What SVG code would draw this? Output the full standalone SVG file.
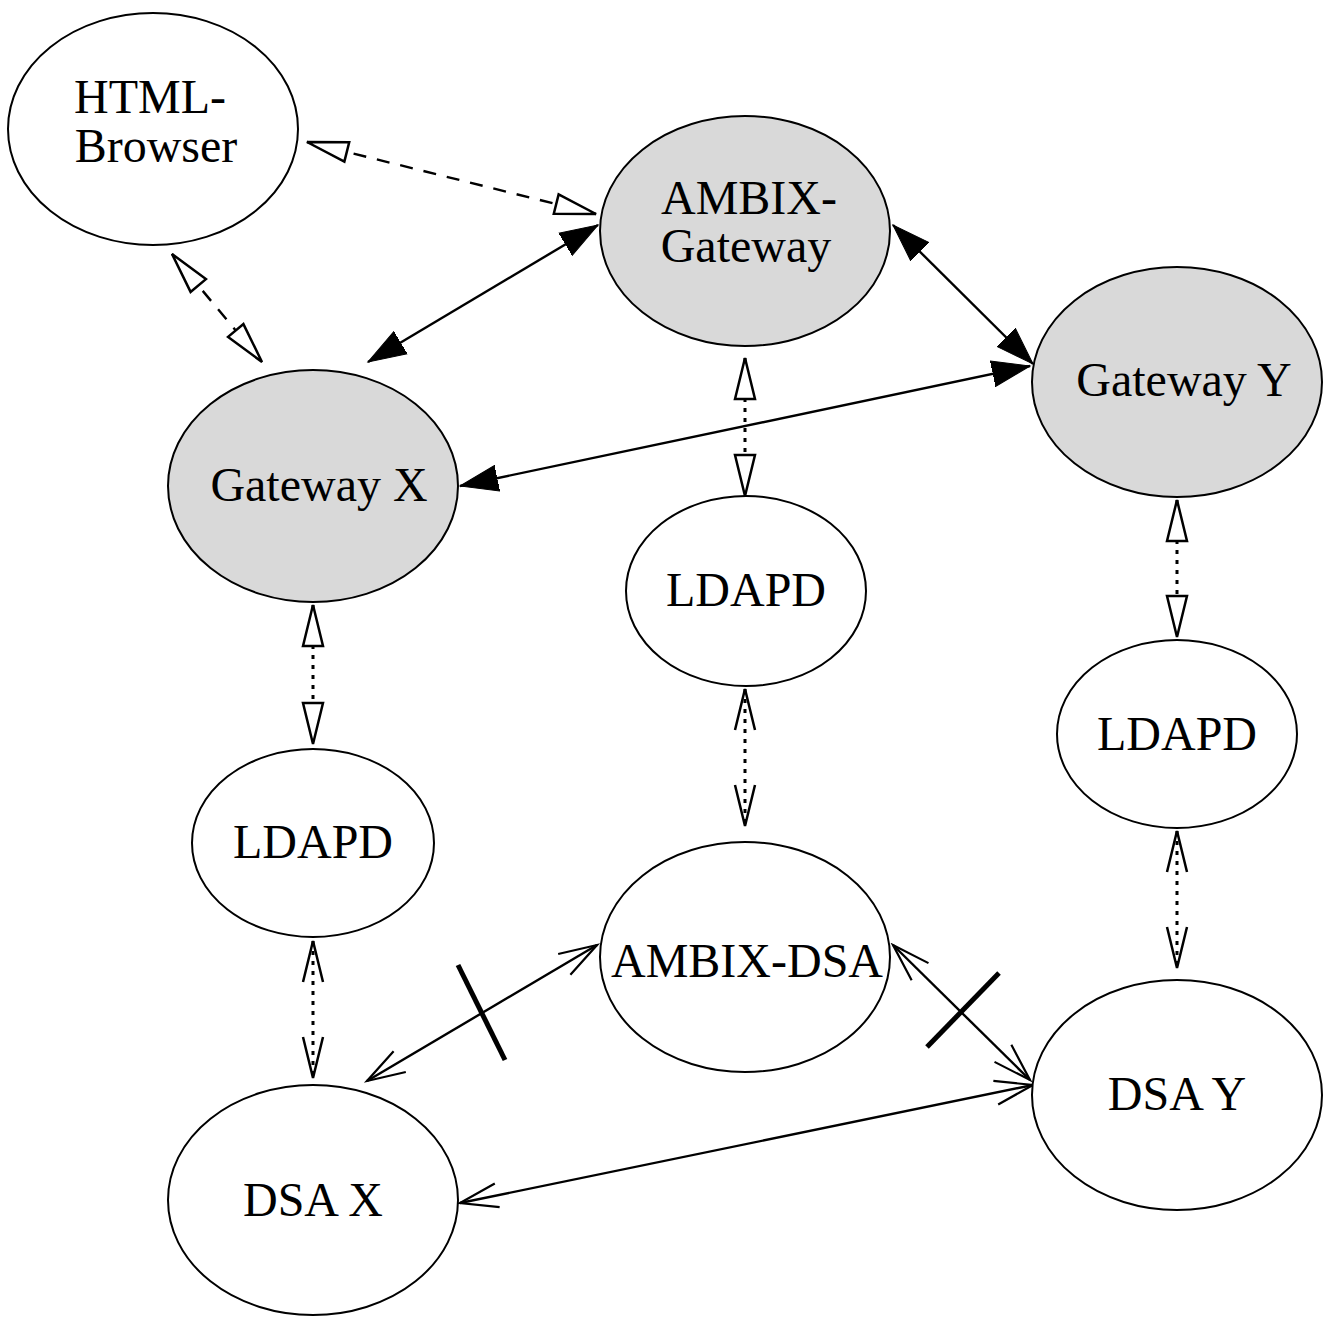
<svg xmlns="http://www.w3.org/2000/svg" width="1328" height="1326" viewBox="0 0 1328 1326">
<style>
.n{fill:#fff;stroke:#000;stroke-width:2}
.g{fill:#d9d9d9;stroke:#000;stroke-width:2}
.t{font-family:"Liberation Serif","Times New Roman",serif;font-size:48px;text-anchor:middle;fill:#000}
.c{fill:none;stroke:#000;stroke-width:2.4}
.dash{stroke-dasharray:13 11}
.dot{stroke-dasharray:4 6;stroke-width:3}
.bar{stroke:#000;stroke-width:5}
</style>
<defs>
<marker id="fa" markerUnits="userSpaceOnUse" markerWidth="40" markerHeight="28" refX="38" refY="14" orient="auto-start-reverse"><path d="M0,1 L38,14 L0,27 Z" fill="#000" stroke="#000" stroke-width="1"/></marker>
<marker id="ot" markerUnits="userSpaceOnUse" markerWidth="46" markerHeight="26" refX="43" refY="13" orient="auto-start-reverse"><path d="M2,3 L43,13 L2,23 Z" fill="#fff" stroke="#000" stroke-width="2.5"/></marker>
<marker id="ov" markerUnits="userSpaceOnUse" markerWidth="46" markerHeight="26" refX="43" refY="13" orient="auto-start-reverse"><path d="M2,3 L43,13 L2,23" fill="none" stroke="#000" stroke-width="2.5"/></marker>
<marker id="tv" markerUnits="userSpaceOnUse" markerWidth="42" markerHeight="28" refX="39" refY="14" orient="auto-start-reverse"><path d="M1,2 L39,14 L1,26" fill="none" stroke="#000" stroke-width="2.2"/></marker>
</defs>
<rect width="1328" height="1326" fill="#fff"/>
<g id="connectors">
<line class="c dash" x1="307" y1="142" x2="596" y2="214" marker-start="url(#ot)" marker-end="url(#ot)"/>
<line class="c dash" x1="172" y1="254" x2="262" y2="362" marker-start="url(#ot)" marker-end="url(#ot)"/>
<line class="c" x1="368" y1="362" x2="598" y2="225" marker-start="url(#fa)" marker-end="url(#fa)"/>
<line class="c" x1="893" y1="225" x2="1033" y2="364" marker-start="url(#fa)" marker-end="url(#fa)"/>
<line class="c" x1="460" y1="486" x2="1030" y2="366" marker-start="url(#fa)" marker-end="url(#fa)"/>
<line class="c dot" x1="745" y1="358" x2="745" y2="496" marker-start="url(#ot)" marker-end="url(#ot)"/>
<line class="c dot" x1="1177" y1="500" x2="1177" y2="637" marker-start="url(#ot)" marker-end="url(#ot)"/>
<line class="c dot" x1="313" y1="605" x2="313" y2="744" marker-start="url(#ot)" marker-end="url(#ot)"/>
<line class="c dot" x1="745" y1="689" x2="745" y2="826" marker-start="url(#ov)" marker-end="url(#ov)"/>
<line class="c dot" x1="1177" y1="831" x2="1177" y2="968" marker-start="url(#ov)" marker-end="url(#ov)"/>
<line class="c dot" x1="313" y1="941" x2="313" y2="1078" marker-start="url(#ov)" marker-end="url(#ov)"/>
<line class="c" x1="367" y1="1081" x2="597" y2="945" marker-start="url(#tv)" marker-end="url(#tv)"/>
<line class="c" x1="893" y1="945" x2="1030" y2="1080" marker-start="url(#tv)" marker-end="url(#tv)"/>
<line class="c" x1="460" y1="1203" x2="1033" y2="1085" marker-start="url(#tv)" marker-end="url(#tv)"/>
<line class="bar" x1="458" y1="965" x2="505" y2="1060"/>
<line class="bar" x1="927" y1="1047" x2="999" y2="973"/>
</g>
<g id="html-browser"><ellipse class="n" cx="153" cy="129" rx="145" ry="116"/><text class="t" x="150" y="113">HTML-</text><text class="t" x="156" y="162">Browser</text></g>
<g id="ambix-gateway"><ellipse class="g" cx="745" cy="231" rx="145" ry="115"/><text class="t" x="749" y="214">AMBIX-</text><text class="t" x="746" y="262">Gateway</text></g>
<g id="gateway-y"><ellipse class="g" cx="1177" cy="382" rx="145" ry="115"/><text class="t" x="1184" y="396">Gateway Y</text></g>
<g id="gateway-x"><ellipse class="g" cx="313" cy="486" rx="145" ry="116"/><text class="t" x="319" y="501">Gateway X</text></g>
<g id="ldapd-mid"><ellipse class="n" cx="746" cy="591" rx="120" ry="95"/><text class="t" x="746" y="606">LDAPD</text></g>
<g id="ldapd-right"><ellipse class="n" cx="1177" cy="734" rx="120" ry="94"/><text class="t" x="1177" y="750">LDAPD</text></g>
<g id="ldapd-left"><ellipse class="n" cx="313" cy="843" rx="121" ry="94"/><text class="t" x="313" y="858">LDAPD</text></g>
<g id="ambix-dsa"><ellipse class="n" cx="745" cy="957" rx="145" ry="115"/><text class="t" x="747" y="977">AMBIX-DSA</text></g>
<g id="dsa-y"><ellipse class="n" cx="1177" cy="1095" rx="145" ry="115"/><text class="t" x="1177" y="1110">DSA Y</text></g>
<g id="dsa-x"><ellipse class="n" cx="313" cy="1200" rx="145" ry="115"/><text class="t" x="313" y="1216">DSA X</text></g>
</svg>
